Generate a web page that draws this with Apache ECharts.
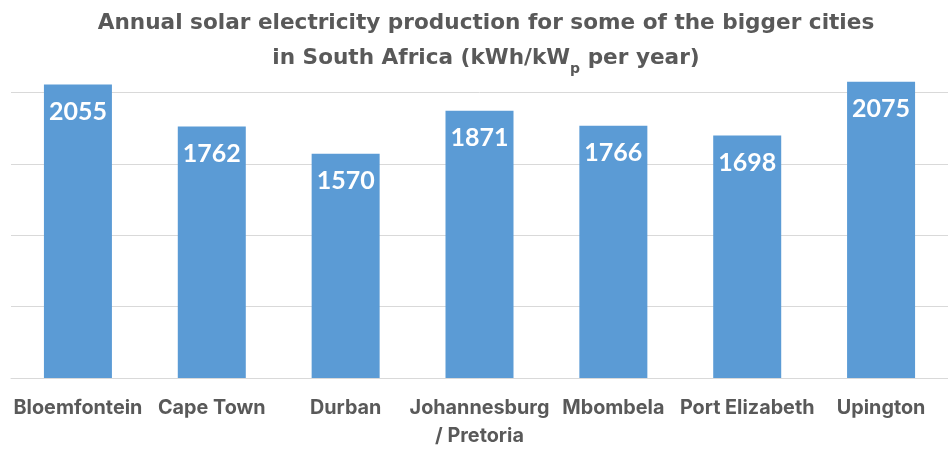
<!DOCTYPE html>
<html>
<head>
<meta charset="utf-8">
<script src="https://cdn.jsdelivr.net/npm/echarts@6/dist/echarts.min.js"></script>
<style>html,body{margin:0;padding:0;background:#fff}#c{width:948px;height:450px}</style>
</head>
<body>
<div id="c"></div>
<script>
const categories = ['Bloemfontein', 'Cape Town', 'Durban', 'Johannesburg\n/ Pretoria', 'Mbombela', 'Port Elizabeth', 'Upington'];
const production = [2055, 1762, 1570, 1871, 1766, 1698, 2075];
const titleLine1 = 'Annual solar electricity production for some of the bigger cities';
const titleLine2a = 'in South Africa (kWh/kW';
const titleSub = 'p';
const titleLine2b = ' per year)';

const chart = echarts.init(document.getElementById('c'), null, {renderer: 'canvas'});
chart.setOption({
  animation: false,
  backgroundColor: '#ffffff',
  title: {
    text: '{t|' + titleLine1 + '}\n{t|' + titleLine2a + '}{s|' + titleSub + '}{t|' + titleLine2b + '}',
    left: 481,
    textAlign: 'center',
    top: 1,
    textStyle: {
      rich: {
        t: {fontFamily: 'DejaVu Sans', fontWeight: 'bold', fontSize: 21.6, color: '#595959', lineHeight: 35},
        s: {fontFamily: 'DejaVu Sans', fontWeight: 'bold', fontSize: 14, color: '#595959', lineHeight: 20, verticalAlign: 'bottom'}
      }
    }
  },
  grid: {left: 11, right: -11, top: 21, bottom: 70.5},
  xAxis: {
    type: 'category',
    data: categories,
    axisLine: {lineStyle: {color: '#D9D9D9', width: 1}},
    axisTick: {show: false},
    axisLabel: {
      interval: 0,
      margin: 16,
      fontFamily: 'Inter',
      fontWeight: 'bold',
      fontSize: 19.8,
      color: '#595959',
      lineHeight: 28
    }
  },
  yAxis: {
    type: 'value',
    min: 0,
    max: 2500,
    interval: 500,
    axisLabel: {show: false},
    axisLine: {show: false},
    axisTick: {show: false},
    splitLine: {show: true, showMaxLine: false, lineStyle: {color: '#D9D9D9', width: 1}}
  },
  series: [{
    type: 'bar',
    data: production,
    barWidth: 68,
    itemStyle: {color: '#5B9BD5'},
    label: {
      show: true,
      position: 'insideTop',
      distance: 15,
      fontFamily: 'Lato',
      fontWeight: 'bold',
      fontSize: 25,
      color: '#ffffff'
    }
  }]
});
</script>
</body>
</html>
